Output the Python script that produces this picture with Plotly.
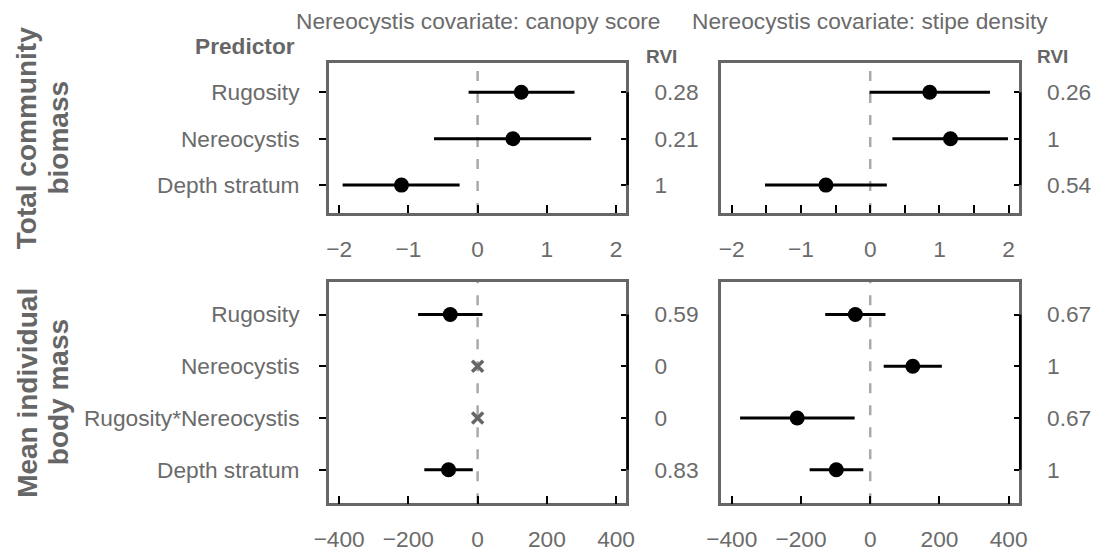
import plotly.graph_objects as go

# ---------------- data ----------------
top_predictors = ["Rugosity", "Nereocystis", "Depth stratum"]
bottom_predictors = ["Rugosity", "Nereocystis", "Rugosity*Nereocystis", "Depth stratum"]

col_titles = ["Nereocystis covariate: canopy score", "Nereocystis covariate: stipe density"]
row_titles = [["Total community", "biomass"], ["Mean individual", "body mass"]]

# Total community biomass, canopy score model
biomass_canopy_est = [0.63, 0.51, -1.10]
biomass_canopy_lo = [-0.13, -0.63, -1.95]
biomass_canopy_hi = [1.40, 1.64, -0.26]
biomass_canopy_rvi = [0.28, 0.21, 1]

# Total community biomass, stipe density model
biomass_stipe_est = [0.86, 1.16, -0.64]
biomass_stipe_lo = [-0.01, 0.32, -1.52]
biomass_stipe_hi = [1.73, 1.99, 0.24]
biomass_stipe_rvi = [0.26, 1, 0.54]

# Mean individual body mass, canopy score model
bodymass_canopy_est = [-79, 0, 0, -84]
bodymass_canopy_lo = [-172, 0, 0, -154]
bodymass_canopy_hi = [14, 0, 0, -14]
bodymass_canopy_rvi = [0.59, 0, 0, 0.83]

# Mean individual body mass, stipe density model
bodymass_stipe_est = [-43, 123, -211, -98]
bodymass_stipe_lo = [-130, 39, -376, -175]
bodymass_stipe_hi = [44, 207, -45, -20]
bodymass_stipe_rvi = [0.67, 1, 0.67, 1]

x_ticks_top = [-2, -1, 0, 1, 2]
x_ticks_bottom = [-400, -200, 0, 200, 400]

# ---------------- styling / layout ----------------
W, H = 1099, 552
FONT = "Liberation Sans, Arial, Helvetica, sans-serif"
GREY = "#666666"
TXT = "#6b6b6b"
FS = 22.7

def px_x(p):
    return p / W

def px_y(p):
    return 1 - p / H

xdom = [[px_x(320.5), px_x(624.5)], [px_x(721.5), px_x(1025.5)]]
ydom = [[px_y(214.5), px_y(63.5)], [px_y(507), px_y(284)]]
yrng = [[3.6, 0.37], [4.65, 0.37]]
xrng = [[-2.15, 2.15], [-430, 430]]
xticks = [x_ticks_top, x_ticks_bottom]

panels = [
    (biomass_canopy_est, biomass_canopy_lo, biomass_canopy_hi, biomass_canopy_rvi, top_predictors, 0, 0),
    (biomass_stipe_est, biomass_stipe_lo, biomass_stipe_hi, biomass_stipe_rvi, top_predictors, 0, 1),
    (bodymass_canopy_est, bodymass_canopy_lo, bodymass_canopy_hi, bodymass_canopy_rvi, bottom_predictors, 1, 0),
    (bodymass_stipe_est, bodymass_stipe_lo, bodymass_stipe_hi, bodymass_stipe_rvi, bottom_predictors, 1, 1),
]

fig = go.Figure()
shapes = []
layout_axes = {}

for i, (est, lo, hi, rvi, preds, r, c) in enumerate(panels, start=1):
    pos = list(range(1, len(preds) + 1))
    key = "" if i == 1 else str(i)
    xa, ya, ya2 = "x" + key, "y" + key, f"y{i + 4}"
    inc = [k for k in range(len(preds)) if rvi[k] > 0]
    exc = [k for k in range(len(preds)) if rvi[k] == 0]

    fig.add_trace(go.Scatter(
        x=[est[k] for k in inc], y=[pos[k] for k in inc],
        mode="markers",
        marker=dict(size=15, color="black"),
        error_x=dict(type="data", symmetric=False,
                     array=[hi[k] - est[k] for k in inc],
                     arrayminus=[est[k] - lo[k] for k in inc],
                     width=0, thickness=3, color="black"),
        xaxis=xa, yaxis=ya, hoverinfo="skip",
    ))
    if exc:
        fig.add_trace(go.Scatter(
            x=[est[k] for k in exc], y=[pos[k] for k in exc],
            mode="markers",
            marker=dict(symbol="x-thin", size=11, color=GREY,
                        line=dict(width=3.5, color=GREY)),
            xaxis=xa, yaxis=ya, hoverinfo="skip",
        ))
    # invisible trace to activate RVI axis
    fig.add_trace(go.Scatter(
        x=est, y=pos, mode="markers", marker=dict(opacity=0),
        xaxis=xa, yaxis=ya2, hoverinfo="skip",
    ))

    xaxis = dict(
        domain=xdom[c], range=xrng[r], anchor=ya,
        tickmode="array", tickvals=xticks[r],
        ticks="inside", ticklen=8, tickwidth=2, tickcolor="black",
        showline=True, mirror=True, linecolor=GREY, linewidth=2.5,
        showgrid=False, zeroline=False,
        tickfont=dict(size=FS, color=TXT, family=FONT),
        ticklabelstandoff=14,
    )
    if r == 0 and c == 1:
        xaxis["minor"] = dict(dtick=0.5, tick0=0, ticks="inside", ticklen=8,
                              tickwidth=2, tickcolor="black")
    layout_axes["xaxis" + key] = xaxis
    yaxis = dict(
        domain=ydom[r], range=yrng[r], anchor=xa,
        tickmode="array", tickvals=pos, ticktext=preds,
        ticks="outside", ticklen=7, tickwidth=2, tickcolor="black",
        showline=True, mirror=True, linecolor=GREY, linewidth=2.5,
        showgrid=False, zeroline=False,
        tickfont=dict(size=FS, color=TXT, family=FONT),
        ticklabelstandoff=15,
    )
    if c == 1:
        yaxis["showticklabels"] = False
        yaxis["ticks"] = ""
    layout_axes["yaxis" + key] = yaxis
    layout_axes[f"yaxis{i + 4}"] = dict(
        overlaying=ya, side="right", anchor=xa,
        range=yrng[r],
        tickmode="array", tickvals=pos, ticktext=[f"{v:g}" for v in rvi],
        ticks="inside", ticklen=5, tickwidth=2, tickcolor="black",
        showline=False, showgrid=False, zeroline=False,
        tickfont=dict(size=FS, color=TXT, family=FONT),
        ticklabelstandoff=27,
    )

    shapes.append(dict(type="line", xref=xa, yref=f"{ya} domain",
                       x0=0, x1=0, y0=0, y1=1, layer="below",
                       line=dict(color="#aaaaaa", width=2.5, dash="10px,12px")))
    shapes.append(dict(type="line", xref=f"{xa} domain", yref=ya,
                       x0=1.004, x1=1.004, y0=pos[0], y1=pos[-1],
                       line=dict(color="black", width=2.5)))

annotations = []
for c, t in enumerate(col_titles):
    annotations.append(dict(text=t, xref="paper", yref="paper",
                            x=(xdom[c][0] + xdom[c][1]) / 2, y=px_y(21),
                            xanchor="center", yanchor="middle", showarrow=False,
                            font=dict(size=FS, color=TXT, family=FONT)))
annotations.append(dict(text="<b>Predictor</b>", xref="paper", yref="paper",
                        x=px_x(288), y=px_y(46), xanchor="right", yanchor="middle",
                        showarrow=False, font=dict(size=FS, color=GREY, family=FONT)))
for c in range(2):
    annotations.append(dict(text="<b>RVI</b>", xref="paper", yref="paper",
                            x=px_x(642 + 400 * c), y=px_y(57), xanchor="left",
                            yanchor="middle", showarrow=False,
                            font=dict(size=19, color=GREY, family=FONT)))
line_x = [12.5, 44.5]
for r, lines in enumerate(row_titles):
    for j, t in enumerate(lines):
        annotations.append(dict(text=f"<b>{t}</b>", xref="paper", yref="paper",
                                x=px_x(line_x[j]), y=(ydom[r][0] + ydom[r][1]) / 2,
                                xanchor="center", yanchor="middle", textangle=-90,
                                showarrow=False,
                                font=dict(size=28, color=GREY, family=FONT)))

fig.update_layout(
    width=W, height=H, margin=dict(l=0, r=0, t=0, b=0),
    paper_bgcolor="white", plot_bgcolor="white",
    showlegend=False, shapes=shapes, annotations=annotations,
    **layout_axes,
)

fig.write_html("out.html")
